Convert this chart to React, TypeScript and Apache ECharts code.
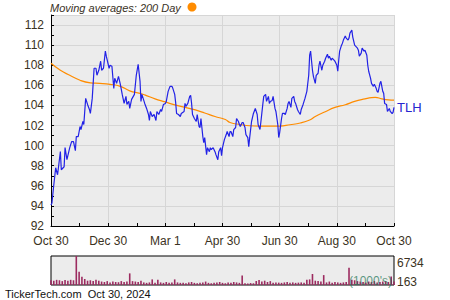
import React, { useEffect, useRef } from "react";
import * as echarts from "echarts";

// ---- data ----
const xLabels = ["Oct 30", "Dec 30", "Mar 1", "Apr 30", "Jun 30", "Aug 30", "Oct 30"];
const symbolName = "TLH";
const legendText = "Moving averages: 200 Day";
const footerText = "TickerTech.com  Oct 30, 2024";
const volLabels = ["6734", "163"];
const volUnit = "(1000's)";

// calendar days since Oct 30, 2023
const priceDays = [
  0, 1, 3, 5, 7, 10, 11, 14, 15, 17, 20, 22, 24, 26, 27, 29, 31, 32, 34, 35, 37, 39, 41, 42, 44, 46, 48, 49, 51, 53,
  54, 56, 58, 59, 62, 63, 65, 67, 68, 70, 72, 74, 76, 78, 80, 81, 83, 84, 86, 89, 91, 93,
  95, 96, 97, 100, 102, 104, 105, 106, 108, 110, 112, 113, 115, 117, 118, 120, 122, 123, 125, 127, 129, 130, 132, 133,
  134, 136, 138, 139, 142, 143, 144, 146, 148, 149, 150, 151, 153, 155, 156, 158, 159, 160, 162, 163, 164, 166, 167,
  169, 170, 171, 173, 175, 176, 178, 179, 181, 182, 183, 185,
  187, 188, 190, 191, 192, 194, 195, 197, 198, 200, 201, 202, 204, 205, 207, 208, 210, 211, 212, 214, 216, 218, 220,
  221, 223, 224, 226, 227, 229, 230, 232, 233, 234, 236, 237, 239, 240, 242, 243, 244, 246, 247, 249, 250, 252, 253,
  254, 256, 257, 259, 260, 261, 263, 264, 266, 267, 269, 270, 271,
  273, 275, 276, 277, 279, 280, 282, 283, 285, 286, 287, 289, 290, 292, 293, 295, 296, 297, 299, 300, 302, 303, 305,
  306, 307, 308, 310, 311, 312, 314, 315, 317, 318, 319, 321, 322, 324, 325, 327, 328, 329, 331, 332, 334, 335, 337,
  338, 339, 341, 342, 344, 345, 347, 348, 349, 351, 352, 354, 355, 356, 358, 359, 361, 362, 364, 365, 366,
];
const priceVals = [
  94.1, 94.3, 96.1, 97.8, 97.1, 99.4, 97.6, 97.9, 99.8, 98.6, 99.8, 100.4, 100.4, 99.5, 100.9, 100.9, 101.9, 101.6,
  102.4, 102.1, 104.7, 104.1, 103.6, 103.2, 104.7, 107.7, 107.7, 107.0, 107.5, 108.4,
  107.5, 107.7, 109.4, 108.9, 107.7, 108.0, 107.9, 105.7, 106.7, 106.2, 106.9, 106.1, 105.1, 104.2, 104.9, 104.1,
  104.4, 103.7, 104.6, 105.1, 107.0, 108.1,
  106.4, 104.4, 105.1, 104.2, 103.7, 103.1, 102.5, 103.4, 102.9, 103.1, 102.5, 103.4, 103.1, 103.6, 103.4, 104.1,
  104.2, 104.4, 105.4, 105.9, 105.9, 105.7, 105.1, 104.3,
  103.2, 103.1, 102.9, 103.2, 103.4, 104.2, 103.9, 104.2, 104.9, 105.0, 104.2, 103.1, 102.7, 102.4, 103.1, 101.9,
  101.8, 102.7, 100.9, 100.3, 100.8, 99.1, 99.8,
  99.4, 99.8, 99.6, 99.8, 99.4, 99.1, 98.6, 99.4, 99.8, 99.0, 99.8, 100.6,
  101.1, 101.4, 100.9, 101.4, 101.4, 100.9, 101.6, 101.8, 102.7, 102.4, 102.1, 101.9, 102.3, 102.3, 101.8, 101.1,
  100.8, 99.9, 100.8, 102.4, 103.2, 103.7, 103.1,
  102.1, 101.6, 102.4, 104.1, 104.9, 105.1, 104.4, 104.9, 104.2, 104.4, 104.5, 104.9, 103.7, 103.4, 102.1, 100.8,
  101.3, 102.7, 103.2, 103.2, 103.1, 103.7, 104.2,
  104.4, 103.8, 104.7, 104.9, 104.4, 104.2, 103.6, 103.4, 103.1, 103.6, 104.1, 104.4, 104.7,
  105.4, 107.0, 109.0, 109.4, 107.5, 106.9, 106.2, 107.0, 107.2, 108.0, 108.4, 107.5, 108.0, 108.4, 108.7, 109.1,
  108.7, 108.9, 108.5, 108.7, 108.5, 108.4, 108.0,
  107.4, 108.5, 109.4, 110.0, 110.2, 110.5, 110.9, 110.7, 110.5, 110.7, 111.2, 111.5, 110.8, 110.0, 109.9, 109.7,
  109.5, 108.9, 109.2, 109.7, 109.4, 109.5, 109.0,
  108.0, 107.4, 106.7, 106.2, 105.9, 106.1, 105.7, 105.4, 105.3, 106.2, 106.4, 105.4, 105.2, 104.2, 104.1, 103.4,
  103.7, 103.4, 103.2, 103.3, 103.8,
];

const maDays = [
  0, 10, 20, 31, 42, 52, 63, 74, 84, 95, 100, 111, 122, 132, 143, 154, 164, 175, 186, 191, 202, 212, 223, 234, 244,
  255, 266, 276, 282, 292, 303, 314, 324, 335, 342, 346, 353, 360, 366,
];
const maVals = [
  108.2, 107.5, 107.0, 106.5, 106.25, 106.2, 106.1, 105.9, 105.45, 105.2, 105.05, 104.65, 104.35, 104.05, 103.8,
  103.55, 103.25, 102.9, 102.6, 102.3, 102.1, 101.98, 101.95, 101.95, 101.95, 102.08, 102.25, 102.55, 102.9, 103.35,
  103.8, 104.07, 104.4, 104.65, 104.78, 104.8, 104.66, 104.56, 104.53,
];

// volume in thousands, one bar every 3 calendar days
const volDayStep = 3;
const volumes = [
  1100, 1000, 1200, 1100, 900, 1150, 1000, 1200, 1100,
  6734, 3100, 1900, 1400,
  1000, 1100, 900, 1200, 1000,
  800, 700, 900, 600, 800, 700, 650, 900, 700, 800,
  2700,
  900, 800, 700, 1000, 600,
  500, 600, 1300, 500, 1200, 600, 500, 700, 500, 600, 1300, 600, 500,
  500, 400, 600, 700, 500, 400, 500, 600, 800, 500, 400, 500, 600, 700, 500, 400, 600, 500, 700, 600, 500,
  2200,
  400, 350, 450, 400,
  900, 1150, 800, 1000, 700, 900,
  500, 600, 550, 500, 600, 700, 500, 600, 500, 550, 600, 500,
  1200, 1300, 2550, 1000,
  900, 800,
  2300,
  600, 800, 500, 700, 600, 500, 600, 700,
  4000,
  1200, 1100, 900, 800,
  700, 600, 800, 700, 900, 600, 700, 800, 900, 700, 2000, 800,
];

const FONT = "'Liberation Sans', Arial, sans-serif";
const LABEL = "#3b3222";

export default function App() {
  const ref = useRef<HTMLDivElement>(null);

  useEffect(() => {
    if (!ref.current) return;
    const chart = echarts.init(ref.current, undefined, { renderer: "svg" });
    const xInterval = 61;
    const option: any = {
      animation: false,
      textStyle: { fontFamily: FONT },
      grid: [
        { left: 51, top: 15, width: 343, height: 211, show: true, backgroundColor: "#ececec", borderWidth: 0 },
        { left: 51, top: 256, width: 343, height: 29, show: true, backgroundColor: "#ececec", borderColor: "#000", borderWidth: 1 },
      ],
      xAxis: [
        {
          type: "value",
          gridIndex: 0,
          min: 0,
          max: 366,
          interval: xInterval,
          axisLine: { show: true, lineStyle: { color: "#000", width: 1 } },
          axisTick: { show: true, inside: true, length: 3, lineStyle: { color: "#000" } },
          minorTick: { show: true, splitNumber: 2, length: 3, lineStyle: { color: "#000" } },
          splitLine: { show: true, lineStyle: { color: "#d6d6d6", width: 1 } },
          axisLabel: {
            formatter: (v: number) => xLabels[Math.round(v / xInterval)] ?? "",
            color: LABEL,
            fontSize: 12,
            fontFamily: FONT,
            margin: 9,
            showMinLabel: true,
            showMaxLabel: true,
          },
        },
        { type: "value", gridIndex: 1, min: 0, max: 366, show: false },
      ],
      yAxis: [
        {
          type: "value",
          gridIndex: 0,
          min: 92,
          max: 113,
          interval: 2,
          axisLine: { show: true, lineStyle: { color: "#000", width: 1 } },
          axisTick: { show: true, inside: true, length: 3, lineStyle: { color: "#000" } },
          minorTick: { show: true, splitNumber: 2, length: 3, lineStyle: { color: "#000" } },
          splitLine: { show: true, lineStyle: { color: "#d6d6d6", width: 1 } },
          axisLabel: { color: LABEL, fontSize: 12, fontFamily: FONT, margin: 7, showMaxLabel: false },
        },
        { type: "value", gridIndex: 1, min: 0, max: 6734, show: false },
      ],
      series: [
        {
          type: "line",
          xAxisIndex: 0,
          yAxisIndex: 0,
          data: maDays.map((d, i) => [d, maVals[i]]),
          smooth: true,
          showSymbol: false,
          lineStyle: { color: "#ff8c00", width: 1.2 },
          z: 2,
        },
        {
          type: "line",
          xAxisIndex: 0,
          yAxisIndex: 0,
          data: priceDays.map((d, i) => [d, priceVals[i]]),
          showSymbol: false,
          lineStyle: { color: "#2222e6", width: 1.2 },
          endLabel: { show: true, formatter: symbolName, color: "#2626d0", fontSize: 13, fontFamily: FONT, distance: 3 },
          z: 3,
        },
        {
          type: "bar",
          xAxisIndex: 1,
          yAxisIndex: 1,
          data: volumes.map((v, i) => [i * volDayStep, v]),
          barWidth: 1.6,
          itemStyle: { color: "#9c2b60" },
        },
      ],
      graphic: [
        {
          type: "text",
          x: 50,
          y: 8,
          style: { text: legendText, fill: "#3a3226", font: `italic 11px ${FONT}`, verticalAlign: "middle" },
        },
        { type: "circle", shape: { cx: 192, cy: 7, r: 4.5 }, style: { fill: "#ff8c00" } },
        {
          type: "text",
          x: 397,
          y: 263,
          style: { text: volLabels[0], fill: LABEL, font: `12px ${FONT}`, verticalAlign: "middle" },
        },
        {
          type: "text",
          x: 397,
          y: 282,
          style: { text: volLabels[1], fill: LABEL, font: `12px ${FONT}`, verticalAlign: "middle" },
        },
        {
          type: "text",
          x: 349,
          y: 281,
          z: 10,
          style: { text: volUnit, fill: "rgba(40,120,90,0.75)", font: `12px ${FONT}`, verticalAlign: "middle" },
        },
        {
          type: "text",
          x: 5,
          y: 294,
          style: { text: footerText, fill: "#111", font: `11px ${FONT}`, verticalAlign: "middle" },
        },
      ],
    };
    chart.setOption(option);
    return () => chart.dispose();
  }, []);

  return (
    <div
      ref={ref}
      style={{ position: "fixed", left: 0, top: 0, width: 450, height: 300, background: "#fff" }}
    />
  );
}
